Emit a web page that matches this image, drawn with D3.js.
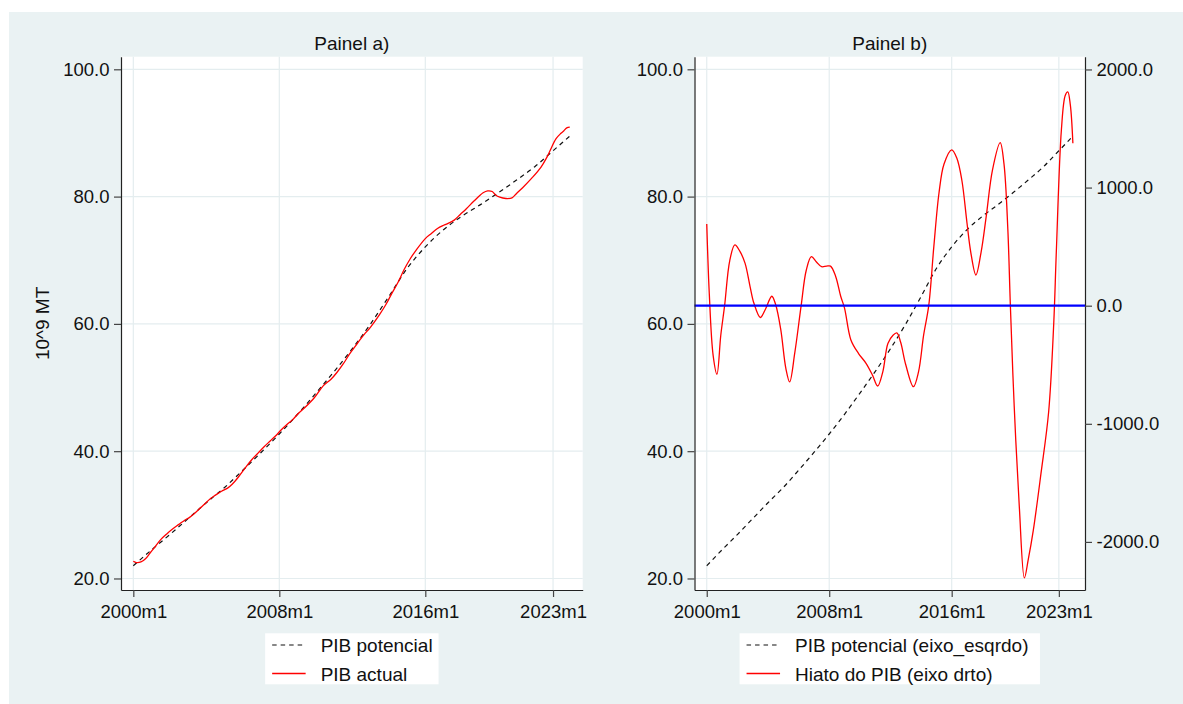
<!DOCTYPE html>
<html>
<head>
<meta charset="utf-8">
<script src="https://cdn.jsdelivr.net/npm/d3@7"></script>
<style>
body { margin: 0; background: #fff; }
svg { display: block; font-family: "Liberation Sans", Arial, sans-serif; }
</style>
</head>
<body>
<div id="chart"></div>
<script>
// months counted from 2000m1
var potMonths = [0, 12, 24, 36, 48, 60, 72, 84, 96, 108, 120, 132, 144, 156, 168, 180, 192, 204, 216, 228, 240, 252, 264, 276, 287];
var potValues = [22.0, 24.5, 26.9, 29.4, 31.9, 34.3, 37.0, 39.8, 42.7, 45.8, 49.1, 52.5, 56.1, 60.0, 64.3, 68.7, 72.1, 74.8, 76.9, 78.7, 80.6, 82.6, 84.7, 87.2, 89.5];

var gapMonths = [0, 2, 5, 8, 11, 14, 18, 22, 26, 30, 34, 37, 42, 46, 51, 54, 58, 62, 65, 69, 74, 78, 82, 86, 90, 94, 97, 101, 105, 108,
  113, 119, 125, 130, 134, 138, 142, 146, 149, 152, 156, 162, 166, 170, 174, 178, 182, 186, 192, 196, 200, 204, 207, 211, 215, 219, 224,
  230, 233, 236, 238, 241, 245, 249, 252, 256, 262, 268, 272, 274, 278, 281, 283, 285, 287];
var gapValues = [692, 100, -420, -580, -250, 0, 380, 515, 460, 360, 160, 20, -100, -30, 80, 10, -200, -530, -645, -400, 0, 300, 415, 370, 330, 335, 335, 250, 80, -20,
  -290, -405, -490, -590, -680, -560, -320, -250, -230, -310, -500, -686, -560, -250, 0, 500, 950, 1200, 1320, 1250, 1060, 700, 450, 260, 450, 750, 1150,
  1380, 1200, 650, 0, -850, -1700, -2305, -2150, -1900, -1420, -900, -150, 450, 1490, 1780, 1810, 1700, 1376];
var actualValues = [22.7, 22.5, 22.6, 23.1, 24.0, 24.9, 26.1, 27.0, 27.8, 28.5, 29.2, 29.6, 30.6, 31.5, 32.6, 33.1, 33.7, 34.2, 34.8, 35.9, 37.5, 38.7, 39.7, 40.7, 41.6, 42.5, 43.3, 44.2, 45.0, 45.8,
  46.9, 48.4, 50.3, 51.3, 52.4, 53.7, 55.2, 56.5, 57.5, 58.4, 59.5, 61.5, 63.0, 64.8, 66.5, 68.5, 70.2, 71.6, 73.4, 74.2, 75.0, 75.5, 75.8, 76.3, 77.2, 78.1, 79.3,
  80.6, 80.9, 80.8, 80.3, 79.9, 79.7, 79.8, 80.5, 81.4, 82.9, 84.6, 86.2, 87.2, 89.1, 89.9, 90.3, 90.8, 90.9];

var xTickMonths = [0, 96, 192, 276];
var xTickLabels = ['2000m1', '2008m1', '2016m1', '2023m1'];
var leftTicks = [20, 40, 60, 80, 100];
var rightTicks = [-2000, -1000, 0, 1000, 2000];

var W = 1183, H = 704;
var plotTop = 56.7, plotBottom = 590;
var bg = '#eaf2f3', grid = '#e4edef';

var svg = d3.select('#chart').append('svg')
  .attr('width', W)
  .attr('height', H);

svg.append('rect')
  .attr('x', 9).attr('y', 12)
  .attr('width', W - 9).attr('height', H - 12)
  .attr('fill', bg);

var yLeft = d3.scaleLinear().domain([18.19, 101.98]).range([plotBottom, plotTop]);
var yRight = d3.scaleLinear().domain([-2407, 2108]).range([plotBottom, plotTop]);

var potData = potMonths.map(function(m, i) { return { m: m, v: potValues[i] }; });
var gapData = gapMonths.map(function(m, i) { return { m: m, v: gapValues[i] }; });
var actData = gapMonths.map(function(m, i) { return { m: m, v: actualValues[i] }; });

function fmt(d) { return d.toFixed(1); }

function styleAxis(g) {
  g.attr('font-size', null).attr('font-family', null);
  g.selectAll('.domain').attr('stroke', '#222').attr('stroke-width', 1.2);
  g.selectAll('.tick line').attr('stroke', '#444').attr('stroke-width', 1.2);
  g.selectAll('.tick text').attr('fill', '#111').style('font-size', '18.5px');
}

function drawPanel(p) {
  var x = d3.scaleLinear().domain(p.xDomain).range([p.left, p.right]);
  var g = svg.append('g');

  g.append('rect')
    .attr('x', p.left).attr('y', plotTop)
    .attr('width', p.right - p.left).attr('height', plotBottom - plotTop)
    .attr('fill', '#fff');

  // grid
  g.selectAll('.vgrid').data(xTickMonths).enter().append('line')
    .attr('x1', function(d) { return x(d); }).attr('x2', function(d) { return x(d); })
    .attr('y1', plotTop).attr('y2', plotBottom)
    .attr('stroke', grid).attr('stroke-width', 1.2);
  g.selectAll('.hgrid').data(leftTicks).enter().append('line')
    .attr('x1', p.left).attr('x2', p.right)
    .attr('y1', function(d) { return yLeft(d); }).attr('y2', function(d) { return yLeft(d); })
    .attr('stroke', grid).attr('stroke-width', 1.2);

  var line = function(yScale) {
    return d3.line()
      .x(function(d) { return x(d.m); })
      .y(function(d) { return yScale(d.v); });
  };

  if (p.name == 'a') {
    g.append('path').datum(potData)
      .attr('d', line(yLeft).curve(d3.curveMonotoneX))
      .attr('fill', 'none').attr('stroke', '#111').attr('stroke-width', 1.2)
      .attr('stroke-dasharray', '4.5,4');
    g.append('path').datum(actData)
      .attr('d', line(yLeft).curve(d3.curveCatmullRom.alpha(0.5)))
      .attr('fill', 'none').attr('stroke', '#ff0000').attr('stroke-width', 1.3);
  } else {
    g.append('path').datum(potData)
      .attr('d', line(yLeft).curve(d3.curveMonotoneX))
      .attr('fill', 'none').attr('stroke', '#111').attr('stroke-width', 1.2)
      .attr('stroke-dasharray', '4.5,4');
    g.append('path').datum(gapData)
      .attr('d', line(yRight).curve(d3.curveCatmullRom.alpha(0.5)))
      .attr('fill', 'none').attr('stroke', '#ff0000').attr('stroke-width', 1.3);
    g.append('line')
      .attr('x1', p.left).attr('x2', p.right)
      .attr('y1', yRight(0)).attr('y2', yRight(0))
      .attr('stroke', '#0000ff').attr('stroke-width', 2.2);
  }

  // axes
  g.append('g')
    .attr('transform', 'translate(0,' + plotBottom + ')')
    .call(d3.axisBottom(x).tickValues(xTickMonths)
      .tickFormat(function(d, i) { return xTickLabels[i]; })
      .tickSize(7).tickSizeOuter(0).tickPadding(8))
    .call(styleAxis);

  g.append('g')
    .attr('transform', 'translate(' + p.left + ',0)')
    .call(d3.axisLeft(yLeft).tickValues(leftTicks).tickFormat(fmt)
      .tickSize(7).tickSizeOuter(0).tickPadding(4.5))
    .call(styleAxis);

  if (p.name == 'b') {
    g.append('g')
      .attr('transform', 'translate(' + p.right + ',0)')
      .call(d3.axisRight(yRight).tickValues(rightTicks).tickFormat(fmt)
        .tickSize(7).tickSizeOuter(0).tickPadding(4.5))
      .call(styleAxis);
  }

  var cx = (p.left + p.right) / 2;
  g.append('text')
    .attr('x', cx).attr('y', 49.5)
    .attr('text-anchor', 'middle')
    .style('font-size', '19px').attr('fill', '#111')
    .text(p.title);

  // legend
  var lg = g.append('g').attr('transform', 'translate(' + (cx - p.legendW / 2) + ',633.3)');
  lg.append('rect').attr('width', p.legendW).attr('height', 51).attr('fill', '#fff');
  lg.append('line')
    .attr('x1', 7).attr('x2', 40.5).attr('y1', 11.7).attr('y2', 11.7)
    .attr('stroke', '#111').attr('stroke-width', 1.2).attr('stroke-dasharray', '4.5,4');
  lg.append('line')
    .attr('x1', 7).attr('x2', 40.5).attr('y1', 40.2).attr('y2', 40.2)
    .attr('stroke', '#ff0000').attr('stroke-width', 1.3);
  lg.selectAll('.ltxt').data(p.legend).enter().append('text')
    .attr('x', 55.5)
    .attr('y', function(d, i) { return 18.5 + i * 29; })
    .style('font-size', '19px').attr('fill', '#111')
    .text(function(d) { return d; });
}

drawPanel({
  name: 'a', title: 'Painel a)',
  left: 121, right: 582.7, xDomain: [-8.1, 295.5],
  legendW: 173.4,
  legend: ['PIB potencial', 'PIB actual']
});

drawPanel({
  name: 'b', title: 'Painel b)',
  left: 694.5, right: 1085, xDomain: [-9.6, 296.5],
  legendW: 300.4,
  legend: ['PIB potencial (eixo_esqrdo)', 'Hiato do PIB (eixo drto)']
});

svg.append('text')
  .attr('transform', 'translate(49,323.4) rotate(-90)')
  .attr('text-anchor', 'middle')
  .style('font-size', '19px').attr('fill', '#111')
  .text('10^9 MT');
</script>
</body>
</html>
